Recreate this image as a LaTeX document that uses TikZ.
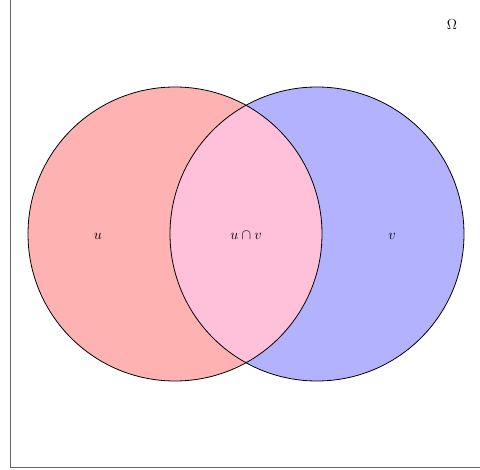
\documentclass[tikz,border=0pt]{standalone}
\begin{document}
\begin{tikzpicture}[x=1pt,y=-1pt,
  setcircle/.style={draw=black,line width=0.8pt},
  lbl/.style={font=\fontsize{14}{16}\selectfont,inner sep=0pt}]
\useasboundingbox (0,0) rectangle (480,470);
\definecolor{lpink}{RGB}{255,192,218}
\draw[gray!80!black,line width=1.6pt] (10.5,-0.5) rectangle (480.5,467.5);
\fill[red!30] (175,234) circle (147);
\fill[blue!30] (317,234) circle (147);
\begin{scope}
  \clip (175,234) circle (147);
  \fill[lpink] (317,234) circle (147);
\end{scope}
\draw[setcircle] (175,234) circle (147);
\draw[setcircle] (317,234) circle (147);
\node[lbl] (u) at (98,236) {$u$};
\node[lbl] (uv) at (246,236) {$u\cap v$};
\node[lbl] (v) at (392,236) {$v$};
\node[lbl] (om) at (452,25) {$\Omega$};
\end{tikzpicture}
\end{document}
